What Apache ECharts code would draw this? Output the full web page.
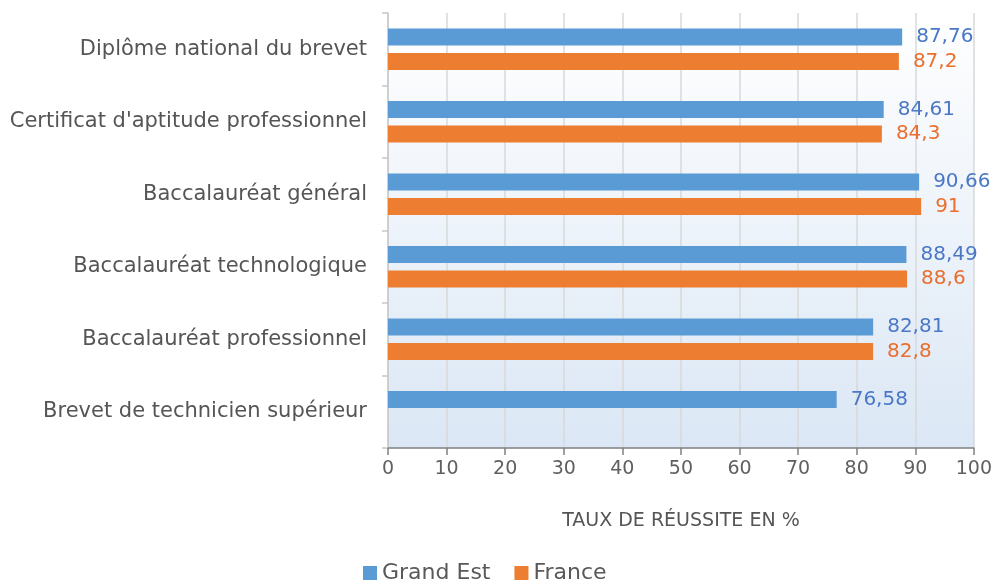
<!DOCTYPE html>
<html><head><meta charset="utf-8">
<script src="https://cdn.jsdelivr.net/npm/echarts@6/dist/echarts.min.js"></script>
<style>html,body{margin:0;padding:0;background:#fff}#c{width:995px;height:583px}</style>
</head><body><div id="c"></div>
<script>
const categories = ["Diplôme national du brevet","Certificat d'aptitude professionnel","Baccalauréat général","Baccalauréat technologique","Baccalauréat professionnel","Brevet de technicien supérieur"];
const grandEst = [87.76, 84.61, 90.66, 88.49, 82.81, 76.58];
const france = [87.2, 84.3, 91, 88.6, 82.8, null];
const xTicks = {min: 0, max: 100, interval: 10};
const fmt = v => (v == null ? '' : String(v).replace('.', ','));
const FONT = '"DejaVu Sans", sans-serif';
const chart = echarts.init(document.getElementById('c'));
chart.setOption({
  animation: false,
  textStyle: {fontFamily: FONT},
  grid: {left: 388, right: 20, top: 13, bottom: 135, show: true, borderWidth: 0,
    backgroundColor: new echarts.graphic.LinearGradient(0, 0, 0, 1, [{offset: 0, color: '#ffffff'}, {offset: 1, color: '#dbe7f5'}])},
  legend: {top: 557, left: 358, itemWidth: 14, itemHeight: 14, itemGap: 24, icon: 'rect',
    textStyle: {fontSize: 22, color: '#595959', fontFamily: FONT}, data: ['Grand Est', 'France']},
  xAxis: {type: 'value', min: xTicks.min, max: xTicks.max, interval: xTicks.interval,
    name: 'TAUX DE RÉUSSITE EN %', nameLocation: 'middle', nameGap: 64,
    nameTextStyle: {fontSize: 19, color: '#555', fontFamily: FONT},
    axisLine: {show: true, lineStyle: {color: '#808080', width: 1.5}},
    axisTick: {show: true, length: 7, lineStyle: {color: '#808080', width: 1.5}},
    axisLabel: {fontSize: 19, color: '#606060', margin: 12, fontFamily: FONT},
    splitLine: {show: true, lineStyle: {color: '#d9d9d9', width: 1.5}}},
  yAxis: {type: 'category', data: categories, inverse: true,
    axisLine: {show: true, lineStyle: {color: '#c8c8c8', width: 1.5}},
    axisTick: {show: true, length: 6, lineStyle: {color: '#c8c8c8', width: 1.5}},
    axisLabel: {fontSize: 21, color: '#555', margin: 21, fontFamily: FONT}},
  series: [
    {name: 'Grand Est', type: 'bar', data: grandEst, barWidth: 17, barGap: '45%',
      itemStyle: {color: '#5b9bd5'},
      label: {show: true, position: 'right', distance: 14, fontSize: 20, color: '#4a78c6', formatter: p => fmt(p.value), fontFamily: FONT}},
    {name: 'France', type: 'bar', data: france, barWidth: 17, barGap: '45%',
      itemStyle: {color: '#ed7d31'},
      label: {show: true, position: 'right', distance: 14, fontSize: 20, color: '#ea6e2e', formatter: p => fmt(p.value), fontFamily: FONT}}
  ]
});
</script></body></html>
